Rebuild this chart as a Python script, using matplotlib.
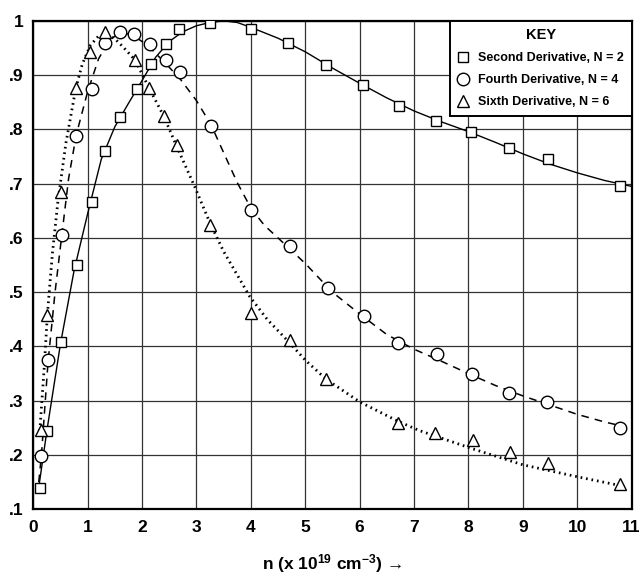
# -*- coding: utf-8 -*-
"""
Gráfico: derivadas normalizadas em função de n (x 10^19 cm^-3)
"""

import matplotlib
matplotlib.use('Agg')
import matplotlib.pyplot as plt
from matplotlib.lines import Line2D

x_n2 = [0.12, 0.25, 0.51, 0.80, 1.08, 1.32, 1.60, 1.91, 2.16, 2.44, 2.67, 3.25,
        4.00, 4.69, 5.39, 6.06, 6.73, 7.41, 8.05, 8.74, 9.46, 10.79]
y_n2 = [0.139, 0.244, 0.408, 0.550, 0.667, 0.761, 0.823, 0.874, 0.921, 0.957, 0.985, 0.996,
        0.985, 0.960, 0.919, 0.882, 0.844, 0.816, 0.796, 0.765, 0.745, 0.696]

x_n4 = [0.15, 0.27, 0.53, 0.79, 1.08, 1.32, 1.60, 1.86, 2.15, 2.44, 2.70, 3.27,
        4.00, 4.72, 5.41, 6.08, 6.71, 7.42, 8.06, 8.75, 9.44, 10.78]
y_n4 = [0.198, 0.375, 0.605, 0.787, 0.874, 0.960, 0.979, 0.976, 0.957, 0.928, 0.905, 0.807,
        0.651, 0.585, 0.508, 0.456, 0.407, 0.387, 0.349, 0.315, 0.297, 0.249]

x_n6 = [0.14, 0.26, 0.51, 0.785, 1.04, 1.32, 1.87, 2.13, 2.41, 2.65, 3.25,
        4.01, 4.72, 5.38, 6.71, 7.38, 8.08, 8.76, 9.46, 10.78]
y_n6 = [0.246, 0.458, 0.685, 0.877, 0.943, 0.979, 0.928, 0.876, 0.824, 0.771, 0.624,
        0.462, 0.412, 0.340, 0.259, 0.241, 0.228, 0.206, 0.185, 0.146]

# Curvas ajustadas
cx_n2 = [0.1, 0.25, 0.5, 0.75, 1.0, 1.25, 1.5, 1.75, 2.0, 2.25, 2.5, 2.75, 3.0, 3.25,
         3.5, 3.75, 4.0, 4.5, 5.0, 5.5, 6.0, 6.5, 7.0, 7.5, 8.0, 8.5, 9.0, 9.5, 10.0,
         10.5, 11.0]
cy_n2 = [0.14, 0.245, 0.405, 0.54, 0.645, 0.745, 0.805, 0.848, 0.89, 0.933, 0.962, 0.98,
         0.991, 0.997, 1.0, 0.997, 0.988, 0.968, 0.943, 0.913, 0.885, 0.858, 0.834,
         0.814, 0.796, 0.776, 0.755, 0.736, 0.72, 0.706, 0.695]

cx_n4 = [0.1, 0.15, 0.27, 0.4, 0.53, 0.65, 0.79, 1.0, 1.2, 1.4, 1.6, 1.8, 2.0, 2.2,
         2.4, 2.7, 3.0, 3.27, 3.5, 3.75, 4.0, 4.25, 4.5, 5.0, 5.5, 6.0, 6.5, 7.0, 7.5,
         8.0, 8.5, 9.0, 9.5, 10.0, 10.5, 10.8]
cy_n4 = [0.15, 0.2, 0.37, 0.5, 0.61, 0.71, 0.79, 0.87, 0.93, 0.965, 0.978, 0.975, 0.962,
         0.945, 0.925, 0.893, 0.853, 0.808, 0.757, 0.702, 0.655, 0.623, 0.6, 0.553, 0.5,
         0.46, 0.422, 0.395, 0.373, 0.35, 0.328, 0.309, 0.292, 0.275, 0.261, 0.254]

cx_n6 = [0.12, 0.2, 0.26, 0.35, 0.45, 0.6, 0.78, 0.9, 1.05, 1.2, 1.35, 1.5, 1.65, 1.87,
         2.13, 2.4, 2.64, 2.97, 3.25, 3.5, 3.98, 4.3, 4.72, 5.0, 5.38, 6.0, 6.71, 7.1,
         8.03, 9.0, 10.0, 10.78]
cy_n6 = [0.245, 0.36, 0.46, 0.57, 0.665, 0.775, 0.875, 0.92, 0.955, 0.972, 0.975, 0.967,
         0.952, 0.928, 0.876, 0.824, 0.768, 0.694, 0.627, 0.575, 0.492, 0.45, 0.406,
         0.375, 0.34, 0.298, 0.262, 0.245, 0.213, 0.182, 0.16, 0.144]

x_ticks = list(range(0, 12))
y_ticks = [0.1, 0.2, 0.3, 0.4, 0.5, 0.6, 0.7, 0.8, 0.9, 1.0]
y_tick_labels = ['.1', '.2', '.3', '.4', '.5', '.6', '.7', '.8', '.9', '1']

plt.rcParams['font.family'] = ['Liberation Sans', 'DejaVu Sans']
plt.rcParams['font.weight'] = 'bold'
plt.rcParams['mathtext.fontset'] = 'custom'
plt.rcParams['mathtext.rm'] = 'Liberation Sans:bold'
plt.rcParams['mathtext.bf'] = 'Liberation Sans:bold'
plt.rcParams['mathtext.default'] = 'bf'

fig = plt.figure(figsize=(6.44, 5.76), dpi=100)
ax = fig.add_axes([0.0517, 0.1158, 0.929, 0.848])

ax.plot(cx_n2, cy_n2, color='black', lw=1.0, ls='-')
ax.plot(cx_n4, cy_n4, color='black', lw=1.1, ls=(0, (5, 4)))
ax.plot(cx_n6, cy_n6, color='black', lw=2.0, ls=(0, (0.6, 1.4)))

mk = dict(ls='none', mfc='white', mec='black', mew=1.0, zorder=3)
ax.plot(x_n2, y_n2, marker='s', ms=7.5, **mk)
ax.plot(x_n4, y_n4, marker='o', ms=9, **mk)
ax.plot(x_n6, y_n6, marker='^', ms=8.5, **mk)

ax.set_xlim(0, 11)
ax.set_ylim(0.1, 1.0)
ax.set_xticks(x_ticks)
ax.set_yticks(y_ticks)
ax.set_yticklabels(y_tick_labels)
ax.tick_params(length=0, labelsize=12.5)
ax.tick_params(axis='x', pad=8)
ax.tick_params(axis='y', pad=7)
for lbl in ax.get_xticklabels() + ax.get_yticklabels():
    lbl.set_fontweight('bold')
ax.grid(True, color='#333333', lw=0.9)
ax.set_axisbelow(True)
for s in ax.spines.values():
    s.set_linewidth(1.6)

ax.set_xlabel('n (x 10$^{19}$ cm$^{-3}$) \u2192', fontsize=12.5,
              fontweight='bold', labelpad=12)

handles = [
    Line2D([], [], ls='none', marker='s', ms=7.5, mfc='white', mec='black'),
    Line2D([], [], ls='none', marker='o', ms=9, mfc='white', mec='black'),
    Line2D([], [], ls='none', marker='^', ms=8.5, mfc='white', mec='black'),
]
labels = ['Second Derivative, N = 2', 'Fourth Derivative, N = 4', 'Sixth Derivative, N = 6']
leg = ax.legend(handles, labels, loc='upper right', bbox_to_anchor=(1, 1),
                borderaxespad=0, title='KEY', fancybox=False, framealpha=1,
                edgecolor='black', handletextpad=0.7, handlelength=1.0,
                labelspacing=0.8, borderpad=0.6,
                prop={'weight': 'bold', 'size': 9},
                title_fontproperties={'weight': 'bold', 'size': 10.5})
leg.get_frame().set_linewidth(1.4)

fig.savefig('out.png', dpi=100)
